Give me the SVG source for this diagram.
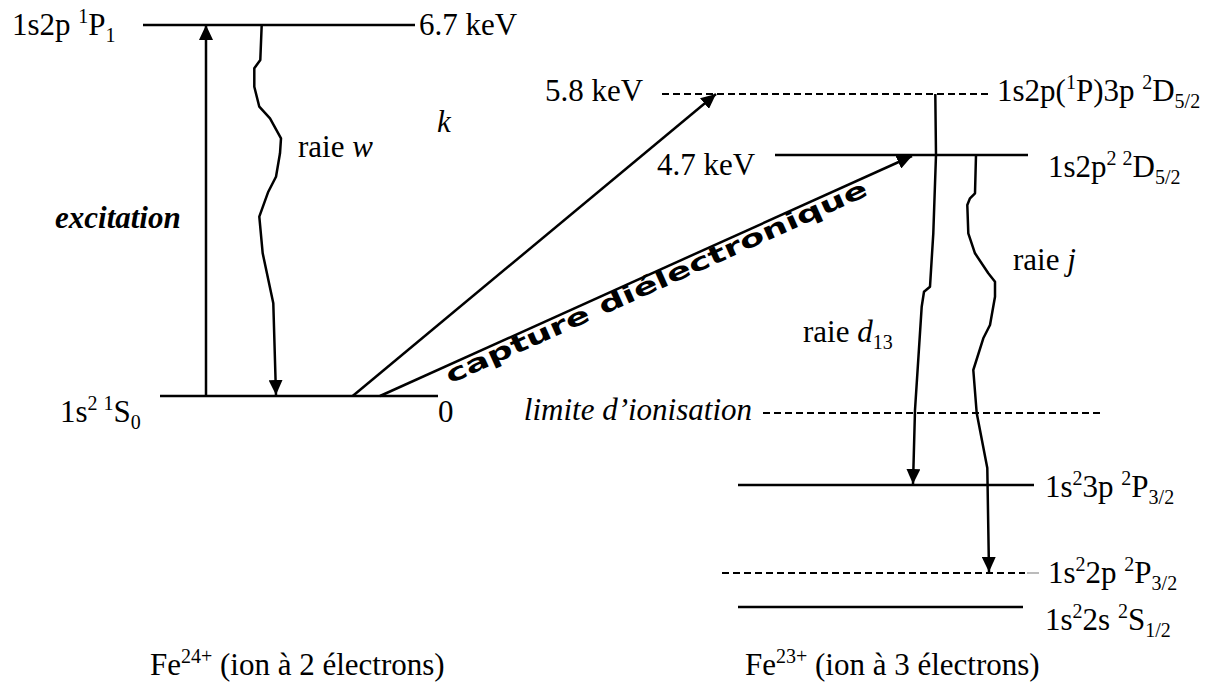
<svg xmlns="http://www.w3.org/2000/svg" width="1219" height="684" viewBox="0 0 1219 684">
<defs>
<marker id="ah" markerUnits="userSpaceOnUse" markerWidth="16" markerHeight="14" refX="15" refY="7" orient="auto"><path d="M0,0 L15,7 L0,14 z" fill="#000"/></marker>
</defs>
<style>
.t{font-family:"Liberation Serif","Times New Roman",serif;font-size:31px;fill:#000}
.i{font-style:italic}
.b{font-weight:bold}
.s{font-size:20px}
.lv{stroke:#000;stroke-width:2.4;fill:none}
.dl{stroke:#000;stroke-width:2;stroke-dasharray:7 4;fill:none}
.ar{stroke:#000;stroke-width:2.5;fill:none;stroke-linejoin:round;marker-end:url(#ah)}
.cap{font-family:"DejaVu Sans",sans-serif;font-weight:bold;font-size:24px;fill:#000}
</style>
<rect width="1219" height="684" fill="#fff"/>

<g id="level-1s2p-1P1">
<line class="lv" x1="143" y1="25" x2="415" y2="25"/>
<text class="t" x="12" y="35">1s2p <tspan class="s" dy="-12">1</tspan><tspan dy="12">P</tspan><tspan class="s" dy="7">1</tspan></text>
<text class="t" x="419" y="35">6.7 keV</text>
</g>

<g id="level-1s2-1S0">
<line class="lv" x1="160" y1="396" x2="438" y2="396"/>
<text class="t" x="60" y="422">1s<tspan class="s" dy="-12">2</tspan><tspan dx="6" class="s">1</tspan><tspan dy="12">S</tspan><tspan class="s" dy="7">0</tspan></text>
<text class="t" x="438" y="422">0</text>
</g>

<g id="level-5.8">
<line class="dl" x1="662" y1="94" x2="988" y2="94"/>
<text class="t" x="545" y="101">5.8 keV</text>
<text class="t" x="997" y="101">1s2p(<tspan class="s" dy="-12">1</tspan><tspan dy="12">P)3p </tspan><tspan class="s" dy="-12">2</tspan><tspan dy="12">D</tspan><tspan class="s" dy="7">5/2</tspan></text>
</g>

<g id="level-4.7">
<line class="lv" x1="775" y1="155" x2="1028" y2="155"/>
<text class="t" x="657" y="175">4.7 keV</text>
<text class="t" x="1048" y="177">1s2p<tspan class="s" dy="-12">2</tspan><tspan class="s" dx="6">2</tspan><tspan dy="12">D</tspan><tspan class="s" dy="7">5/2</tspan></text>
</g>

<g id="level-limite">
<line class="dl" x1="763" y1="413" x2="1100" y2="413"/>
<text class="t i" x="752" y="420" text-anchor="end">limite d’ionisation</text>
</g>

<g id="level-1s2-3p">
<line class="lv" x1="738" y1="485" x2="1034" y2="485"/>
<text class="t" x="1045" y="497">1s<tspan class="s" dy="-12">2</tspan><tspan dy="12">3p </tspan><tspan class="s" dy="-12">2</tspan><tspan dy="12">P</tspan><tspan class="s" dy="7">3/2</tspan></text>
</g>

<g id="level-1s2-2p">
<line class="dl" x1="722" y1="573" x2="1025" y2="573"/>
<line x1="1027" y1="573" x2="1039" y2="573" stroke="#bbb" stroke-width="2"/>
<text class="t" x="1048" y="583">1s<tspan class="s" dy="-12">2</tspan><tspan dy="12">2p </tspan><tspan class="s" dy="-12">2</tspan><tspan dy="12">P</tspan><tspan class="s" dy="7">3/2</tspan></text>
</g>

<g id="level-1s2-2s">
<line class="lv" x1="738" y1="607" x2="1023" y2="607"/>
<text class="t" x="1045" y="630">1s<tspan class="s" dy="-12">2</tspan><tspan dy="12">2s </tspan><tspan class="s" dy="-12">2</tspan><tspan dy="12">S</tspan><tspan class="s" dy="7">1/2</tspan></text>
</g>

<g id="connectors">
<path class="ar" d="M206,396 L206,25"/>
<path class="ar" d="M261.7,25 L260.3,60 L254.3,68.3 L254.3,86.7 L259.3,106.7 L270,118.3 L281,138.3 L280,153.3 L276,176.7 L268.3,191.7 L259.3,216.7 L262.7,253.3 L273.3,303.3 L276,395"/>
<path class="ar" d="M352.7,396 L716,94"/>
<path class="ar" d="M380,396 L912,156"/>
<path class="ar" d="M935.3,94 L936,155 L933.3,233.3 L930,286.7 L924,291.7 L921.7,306.7 L915,410 L913,484"/>
<path class="ar" d="M976,155 L975,193.3 L970,198.3 L967.3,205 L968.3,233.3 L975,253.3 L988.3,273.3 L995,281.7 L995,296.7 L990,325 L983.3,338.3 L973.3,370 L976.7,413 L987.3,468 L989,572"/>
</g>

<g id="labels">
<text class="t" x="298" y="157">raie <tspan class="i">w</tspan></text>
<text class="t i" x="437" y="132">k</text>
<text class="t i b" x="55" y="228">excitation</text>
<text class="cap" transform="translate(450,384) rotate(-24.3)" textLength="460" lengthAdjust="spacingAndGlyphs">capture diélectronique</text>
<text class="t" x="803" y="342">raie <tspan class="i">d</tspan><tspan class="s" dy="7">13</tspan></text>
<text class="t" x="1013" y="270">raie  <tspan class="i">j</tspan></text>
<text class="t" x="150" y="675">Fe<tspan class="s" dy="-12">24+</tspan><tspan dy="12"> (ion à 2 électrons)</tspan></text>
<text class="t" x="745" y="675">Fe<tspan class="s" dy="-12">23+</tspan><tspan dy="12"> (ion à 3 électrons)</tspan></text>
</g>
</svg>
